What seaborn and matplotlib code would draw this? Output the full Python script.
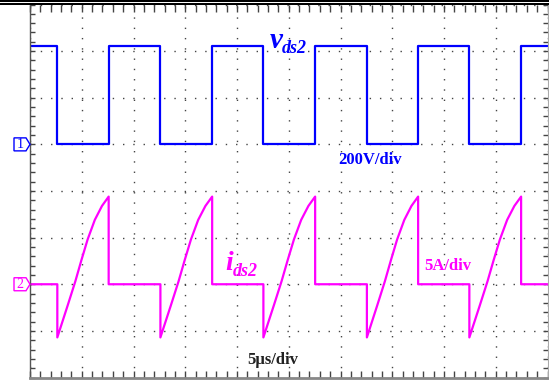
import numpy as np
import pandas as pd
import matplotlib
matplotlib.use("Agg")
import matplotlib.pyplot as plt
from matplotlib.patches import Polygon
from matplotlib.lines import Line2D
from matplotlib.ticker import MultipleLocator
import seaborn as sns

# scope settings
us_per_div = 5
volts_per_div = 200
amps_per_div = 5
ch1_offset_div = 5
ch2_offset_div = 2

# vds2 edges (us)
fall_us = [2.64, 12.6, 22.55, 32.55, 42.45]
rise_us = [7.6, 17.6, 27.55, 37.5, 47.45]
v_high = 420
v_low = 0

# ids2 ramp during each on-interval (fraction of on-time, amps)
ramp_frac = [0, 0.2, 0.35, 0.47, 0.59, 0.73, 0.87, 1.0]
ramp_amps = [-5.7, -2.3, 0.3, 2.6, 4.8, 6.9, 8.4, 9.4]
i_off = 0
t_end = 50


def build_traces():
    tv, v = [0], [v_high]
    ti, i = [0], [i_off]
    for f, r in zip(fall_us, rise_us):
        tv += [f, f, r, r]
        v += [v_high, v_low, v_low, v_high]
        ti += [f]
        i += [i_off]
        for fr, a in zip(ramp_frac, ramp_amps):
            ti.append(f + fr * (r - f))
            i.append(a)
        ti.append(r)
        i.append(i_off)
    tv.append(t_end)
    v.append(v_high)
    ti.append(t_end)
    i.append(i_off)
    vds = pd.DataFrame({"t": tv, "y": np.array(v) / volts_per_div + ch1_offset_div})
    ids = pd.DataFrame({"t": ti, "y": np.array(i) / amps_per_div + ch2_offset_div})
    return vds, ids


def channel_marker(ax, ypos, label, color):
    # little arrow tag on the left edge, sizes in pixels
    w_ax = ax.get_position().width * 549
    h_div = ax.get_position().height * 381 / 8
    xs = np.array([-16, -4, 0, -4, -16]) / w_ax
    ys = ypos + np.array([-6.5, -6.5, 0, 6.5, 6.5]) / h_div
    ax.add_patch(Polygon(np.column_stack([xs, ys]), closed=True, fc="white",
                         ec=color, lw=1.0, transform=ax.get_yaxis_transform(),
                         clip_on=False, zorder=5))
    ax.text(-10 / w_ax, ypos, label, color=color, fontsize=10, ha="center",
            va="center", transform=ax.get_yaxis_transform(), zorder=6)


def main():
    sns.set_style("white")
    plt.rcParams["font.family"] = ["Liberation Serif", "DejaVu Serif"]

    vds, ids = build_traces()

    fig = plt.figure(figsize=(5.49, 3.81), dpi=100)
    ax = fig.add_axes([30 / 549, 3.5 / 381, 517.5 / 549, 373 / 381])

    ax.set_xlim(0, 10 * us_per_div)
    ax.set_ylim(0, 8)
    ax.xaxis.set_major_locator(MultipleLocator(us_per_div))
    ax.xaxis.set_minor_locator(MultipleLocator(us_per_div / 5))
    ax.yaxis.set_major_locator(MultipleLocator(1))
    ax.yaxis.set_minor_locator(MultipleLocator(0.2))
    ax.grid(True, which="major", color="#444444", lw=1.0, linestyle=(0, (1, 6.4)))
    ax.tick_params(axis="x", which="both", direction="in", length=5, width=1,
                   color="#444444", top=True, bottom=True,
                   labelbottom=False, labeltop=False)
    ax.tick_params(axis="y", which="both", direction="in", length=3.6, width=1,
                   color="#444444", left=True, right=True,
                   labelleft=False, labelright=False)

    sns.lineplot(data=vds, x="t", y="y", ax=ax, color="#0000ff", lw=1.6,
                 sort=False, estimator=None)
    sns.lineplot(data=ids, x="t", y="y", ax=ax, color="#ff00ff", lw=1.6,
                 sort=False, estimator=None)
    ax.set_xlabel("")
    ax.set_ylabel("")

    ax.spines["left"].set_color("#555555")
    ax.spines["left"].set_linewidth(1.0)
    ax.spines["bottom"].set_color("#888888")
    ax.spines["bottom"].set_linewidth(2.0)
    ax.spines["right"].set_color("#aaaaaa")
    ax.spines["top"].set_visible(False)

    # double rule along the top
    for yy in [1, 4]:
        fig.add_artist(Line2D([0, 1], [1 - yy / 381] * 2, transform=fig.transFigure,
                              color="black", lw=1.45))

    channel_marker(ax, ch1_offset_div, "1", "#0000ff")
    channel_marker(ax, ch2_offset_div, "2", "#ff00ff")

    # labels
    ax.text(23.2, 7.06, "v", color="#0000ff", fontsize=21, fontweight="bold",
            fontstyle="italic", ha="left", va="baseline")
    ax.text(24.35, 6.97, "ds2", color="#0000ff", fontsize=13, fontweight="bold",
            fontstyle="italic", ha="left", va="baseline")
    ax.text(29.8, 4.58, "200V/div", color="#0000ff", fontsize=12,
            fontweight="bold", ha="left", va="baseline")

    ax.text(18.85, 2.30, "i", color="#ff00ff", fontsize=20, fontweight="bold",
            fontstyle="italic", ha="left", va="baseline")
    ax.text(19.55, 2.17, "ds2", color="#ff00ff", fontsize=13, fontweight="bold",
            fontstyle="italic", ha="left", va="baseline")
    ax.text(38.05, 2.31, "5A/div", color="#ff00ff", fontsize=12,
            fontweight="bold", ha="left", va="baseline")

    ax.text(20.95, 0.29, "5\u00b5s/div", color="#222222", fontsize=12,
            fontweight="bold", ha="left", va="baseline")

    fig.savefig("out.png", dpi=100)


if __name__ == "__main__":
    main()
